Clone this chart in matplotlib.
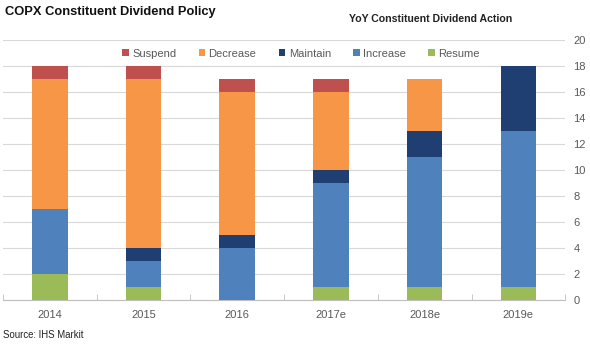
import matplotlib
matplotlib.use("Agg")
import matplotlib.pyplot as plt
import numpy as np

plt.rcParams["font.family"] = ["Liberation Sans", "DejaVu Sans"]

years    = ["2014", "2015", "2016", "2017e", "2018e", "2019e"]
resume   = [2, 1, 0, 1, 1, 1]
increase = [5, 2, 4, 8, 10, 12]
maintain = [0, 1, 1, 1, 2, 5]
decrease = [10, 13, 11, 6, 4, 0]
suspend  = [1, 1, 1, 1, 0, 0]

series = [
    ("Resume",   resume,   "#9BBB59"),
    ("Increase", increase, "#4F81BD"),
    ("Maintain", maintain, "#1F3F73"),
    ("Decrease", decrease, "#F79646"),
    ("Suspend",  suspend,  "#C0504D"),
]

GRAY = "#595959"

fig = plt.figure(figsize=(5.9, 3.5), dpi=100)
ax = fig.add_axes([0.005, 0.143, 0.953, 0.743])

x = np.arange(len(years))
bottom = np.zeros(len(years))
handles = {}
for name, vals, col in series:
    b = ax.bar(x, vals, 0.38, bottom=bottom, color=col, zorder=3)
    handles[name] = b
    bottom += np.array(vals)

ax.set_xlim(-0.5, len(years) - 0.5)
ax.set_ylim(0, 20)
ax.set_yticks(range(0, 21, 2))
ax.yaxis.tick_right()
ax.grid(axis="y", color="#D9D9D9", lw=0.8, zorder=0)
ax.tick_params(axis="y", length=0, pad=6, labelsize=8, labelcolor=GRAY)
ax.set_xticks(x)
ax.set_xticklabels(years)
ax.set_xticks(np.arange(-0.5, len(years)), minor=True)
ax.tick_params(axis="x", which="major", length=0, pad=7, labelsize=8, labelcolor=GRAY)
ax.tick_params(axis="x", which="minor", length=4, color="#BFBFBF", direction="in")
for s in ["top", "left", "right"]:
    ax.spines[s].set_visible(False)
ax.spines["bottom"].set_color("#BFBFBF")

order = ["Suspend", "Decrease", "Maintain", "Increase", "Resume"]
leg = ax.legend([handles[n] for n in order], order, loc="upper center",
                bbox_to_anchor=(0.53, 1.005), ncol=5, frameon=False,
                fontsize=8, handlelength=0.6, handleheight=0.6,
                handletextpad=0.3, columnspacing=2.0, labelcolor=GRAY)

fig.text(0.009, 0.965, "COPX Constituent Dividend Policy", fontsize=9.3,
         fontweight="bold", ha="left", va="center", color="#111111")
fig.text(0.868, 0.945, "YoY Constituent Dividend Action", fontsize=7.6,
         fontweight="bold", ha="right", va="center", color="#222222")
fig.text(0.005, 0.042, "Source: IHS Markit", fontsize=6.9, ha="left",
         va="center", color="#222222")

fig.savefig("out.png", dpi=100)
